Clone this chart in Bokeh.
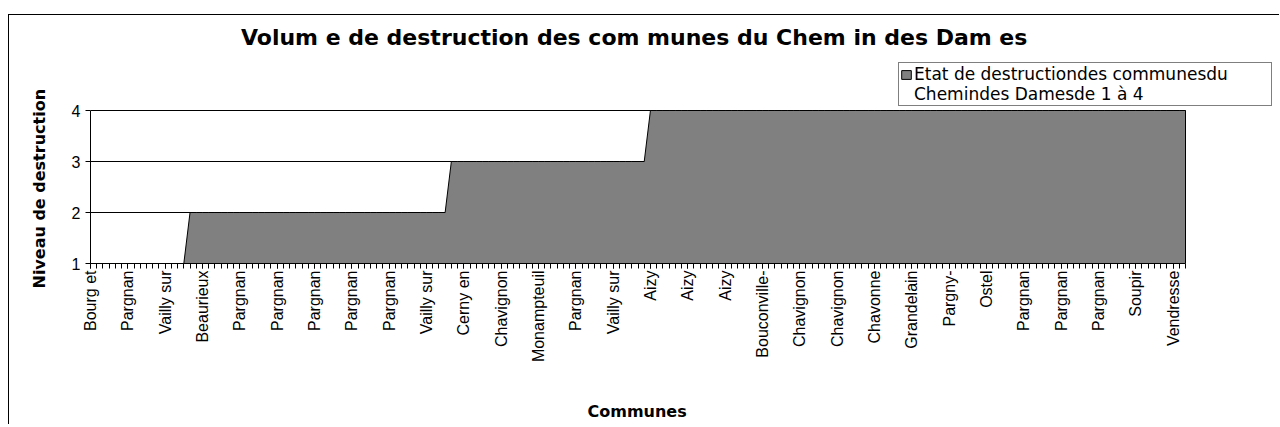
import math
from bokeh.plotting import figure
from bokeh.models import FixedTicker, Label, Legend, LegendItem, Range1d, Title
from bokeh.embed import file_html
from bokeh.resources import INLINE

# ---- data ----
tick_labels = ["Bourg et", "Pargnan", "Vailly sur", "Beaurieux", "Pargnan",
               "Pargnan", "Pargnan", "Pargnan", "Pargnan", "Vailly sur",
               "Cerny en", "Chavignon", "Monampteuil", "Pargnan", "Vailly sur",
               "Aizy", "Aizy", "Aizy", "Bouconville-", "Chavignon",
               "Chavignon", "Chavonne", "Grandelain", "Pargny-", "Ostel",
               "Pargnan", "Pargnan", "Pargnan", "Soupir", "Vendresse"]
label_every = 6

levels = [
    1, 1, 1, 1, 1, 1, 1, 1, 1, 1, 1, 1, 1, 1, 1, 1,
    2, 2, 2, 2, 2, 2, 2, 2, 2, 2, 2, 2, 2, 2,
    2, 2, 2, 2, 2, 2, 2, 2, 2, 2, 2, 2, 2, 2,
    2, 2, 2, 2, 2, 2, 2, 2, 2, 2, 2, 2, 2, 2,
    3, 3, 3, 3, 3, 3, 3, 3, 3, 3, 3, 3, 3, 3, 3, 3,
    3, 3, 3, 3, 3, 3, 3, 3, 3, 3, 3, 3, 3, 3, 3, 3,
    4, 4, 4, 4, 4, 4, 4, 4, 4, 4, 4, 4, 4, 4, 4, 4,
    4, 4, 4, 4, 4, 4, 4, 4, 4, 4, 4, 4, 4, 4, 4, 4,
    4, 4, 4, 4, 4, 4, 4, 4, 4, 4, 4, 4, 4, 4, 4, 4,
    4, 4, 4, 4, 4, 4, 4, 4, 4, 4, 4, 4, 4, 4, 4, 4,
    4, 4, 4, 4, 4, 4, 4, 4, 4, 4, 4, 4, 4, 4, 4, 4,
    4, 4, 4, 4, 4, 4, 4,
]
y_ticks = [1, 2, 3, 4]

title_text = "Volum e de destruction  des com munes du Chem in des Dam es"
x_title = "Communes"
y_title = "Niveau de destruction"
legend_line1 = "Etat de destructiondes communesdu"
legend_line2 = "Chemindes Damesde 1 à 4"

# ---- layout geometry (pixels) ----
W, H = 1271, 412
AREA_W, AREA_H = 1095, 153      # plot area of the chart
LEFT, BOTTOM = 81, 162          # space left of / below plot area
TOP_EXTRA = 95                  # frame extends above the plot area
RIGHT_EXTRA = W - LEFT - AREA_W  # frame extends right of the plot area

n = len(levels)
xs = list(range(n))
base = y_ticks[0]
x_span = n - 1
y_span = y_ticks[-1] - y_ticks[0]
x_end = x_span * (1 + RIGHT_EXTRA / AREA_W)
y_end = y_ticks[-1] + y_span * TOP_EXTRA / AREA_H

p = figure(width=W, height=AREA_H + TOP_EXTRA + BOTTOM, title=None,
           x_range=Range1d(0, x_end), y_range=Range1d(y_ticks[0], y_end),
           output_backend="svg", toolbar_location=None,
           min_border_left=LEFT, min_border_right=0,
           min_border_top=0, min_border_bottom=BOTTOM,
           background_fill_color="white", border_fill_color="white",
           outline_line_color=None)
p.styles = {"border-top": "1px solid #000000", "border-left": "1px solid #000000",
            "margin-top": "14px", "margin-left": "8px"}

# grid lines (only across the plot area)
p.segment(x0=[0] * (len(y_ticks) - 1), y0=y_ticks[1:],
          x1=[x_span] * (len(y_ticks) - 1), y1=y_ticks[1:],
          line_color="#000000", line_width=1)

area = p.patch(xs + [xs[-1], xs[0]], levels + [base, base],
               fill_color="#808080", line_color="#000000", line_width=1)
dummy = p.patch([], [], fill_alpha=0, line_alpha=0)

p.xgrid.visible = False
p.ygrid.visible = False

# x axis
xa = p.xaxis[0]
major = [i * label_every for i in range(len(tick_labels))]
xa.bounds = (0, x_span)
xa.ticker = FixedTicker(ticks=major, minor_ticks=xs)
xa.major_label_overrides = {m: lab for m, lab in zip(major, tick_labels)}
xa.major_label_orientation = math.pi / 2
xa.major_label_text_font = "Liberation Sans"
xa.major_label_text_font_size = "16px"
xa.major_label_text_color = "#000000"
xa.major_label_standoff = 2
xa.major_tick_in = 0
xa.major_tick_out = 5
xa.minor_tick_in = 0
xa.minor_tick_out = 5
xa.major_tick_line_color = "#000000"
xa.minor_tick_line_color = "#000000"
xa.axis_line_color = "#000000"
# blank spacer label: pushes the "Communes" title further down
xa.axis_label = " "
xa.axis_label_text_font = "DejaVu Sans"
xa.axis_label_text_font_size = "16px"
xa.axis_label_standoff = 12

# y axis
ya = p.yaxis[0]
ya.bounds = (y_ticks[0], y_ticks[-1])
ya.ticker = FixedTicker(ticks=y_ticks)
ya.major_label_text_font = "Liberation Sans"
ya.major_label_text_font_size = "16px"
ya.major_label_text_color = "#000000"
ya.major_label_standoff = 5
ya.major_tick_in = 0
ya.major_tick_out = 5
ya.minor_tick_line_color = None
ya.major_tick_line_color = "#000000"
ya.axis_line_color = "#000000"

# axis titles as side titles (centred on the plot area, not the frame)
p.add_layout(Title(text=y_title, align="left", offset=-25,
                   vertical_align="middle", standoff=38,
                   text_font="DejaVu Sans", text_font_style="bold",
                   text_font_size="16px", text_color="#000000"), "left")
p.add_layout(Title(text=x_title, align="left", offset=497,
                   vertical_align="bottom", standoff=0,
                   text_font="DejaVu Sans", text_font_style="bold",
                   text_font_size="16px", text_color="#000000"), "below")

# chart title (inside the frame, above the plot area)
p.add_layout(Label(x=x_span / 2, y=y_ticks[-1] + y_span * 73 / AREA_H,
                   text=title_text,
                   text_align="center", text_baseline="middle",
                   text_font="DejaVu Sans", text_font_style="bold",
                   text_font_size="22px", text_color="#000000"))

# legend
legend = Legend(items=[LegendItem(label=legend_line1, renderers=[area]),
                       LegendItem(label=legend_line2, renderers=[dummy])],
                location=(808, 157), orientation="vertical",
                label_text_font="DejaVu Sans", label_text_font_size="17px",
                label_text_color="#000000",
                glyph_width=12, glyph_height=11, label_height=20,
                label_width=356, label_standoff=2, spacing=0, padding=1,
                margin=0, border_line_color="#000000", border_line_width=1,
                background_fill_color="white", background_fill_alpha=1)
p.add_layout(legend)

open("out.html", "w").write(file_html(p, INLINE))
